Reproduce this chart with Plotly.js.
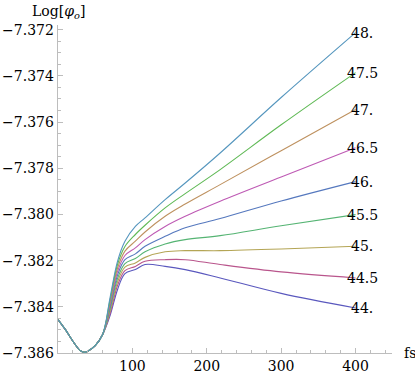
<!DOCTYPE html>
<html>
<head>
<meta charset="utf-8">
<script src="https://cdn.plot.ly/plotly-3.0.1.min.js"></script>
<style>
  html, body { margin: 0; padding: 0; background: #fff; }
  #phiChart { width: 415px; height: 378px; }
</style>
</head>
<body>
<div id="phiChart"></div>
<script>
// time axis (fs)
const fs = [0, 10, 20, 30, 35, 40, 50, 60, 70, 80, 90, 104, 117, 144, 171, 218, 300, 400];

// shared dip before the curves fan out (fs 0..60)
const dip = [-7.38455, -7.38499, -7.38549, -7.38590, -7.38597, -7.38592, -7.38568, -7.38520];

// Log[phi_o] for each parameter value, fs 70..400
const tail44   = [-7.38438, -7.38326, -7.38256, -7.38239, -7.38217, -7.38225, -7.38239, -7.38275, -7.38342, -7.38405];
const tail44_5 = [-7.38429, -7.38308, -7.38243, -7.38225, -7.38203, -7.38196, -7.38196, -7.38217, -7.38249, -7.38275];
const tail45   = [-7.38419, -7.38293, -7.38228, -7.38210, -7.38186, -7.38162, -7.38157, -7.38157, -7.38150, -7.38138];
const tail45_5 = [-7.38409, -7.38278, -7.38213, -7.38191, -7.38162, -7.38128, -7.38109, -7.38092, -7.38049, -7.38001];
const tail46   = [-7.38399, -7.38263, -7.38196, -7.38171, -7.38138, -7.38095, -7.38058, -7.38018, -7.37942, -7.37858];
const tail46_5 = [-7.38390, -7.38248, -7.38178, -7.38145, -7.38109, -7.38052, -7.38008, -7.37943, -7.37838, -7.37711];
const tail47   = [-7.38380, -7.38233, -7.38159, -7.38116, -7.38076, -7.38008, -7.37955, -7.37871, -7.37724, -7.37546];
const tail47_5 = [-7.38370, -7.38217, -7.38139, -7.38087, -7.38047, -7.37972, -7.37910, -7.37806, -7.37612, -7.37386];
const tail48   = [-7.38360, -7.38203, -7.38116, -7.38052, -7.38015, -7.37936, -7.37864, -7.37734, -7.37494, -7.37213];

const labels = ['44.', '44.5', '45.', '45.5', '46.', '46.5', '47.', '47.5', '48.'];
const colors = ['#5a58be', '#b9558c', '#b4a555', '#55b473', '#5578be', '#be5ab4', '#be915f', '#5fb955', '#5596be'];

const yTicks = [-7.386, -7.384, -7.382, -7.380, -7.378, -7.376, -7.374, -7.372];
const xTicks = [100, 200, 300, 400];

const tails = [tail44, tail44_5, tail45, tail45_5, tail46, tail46_5, tail47, tail47_5, tail48];

// Liberation Serif isn't picked up here, DejaVu Serif is
const serif = 'DejaVu Serif';
const textSize = 14;

const data = tails.map((tail, i) => ({
  x: fs,
  y: dip.concat(tail),
  mode: 'lines',
  type: 'scatter',
  name: labels[i],
  line: { color: colors[i], width: 1.1, shape: 'spline', smoothing: 1 },
  hoverinfo: 'skip'
}));

const annotations = tails.map((tail, i) => ({
  x: 409,
  y: tail[tail.length - 1],
  xref: 'x',
  yref: 'y',
  text: labels[i],
  showarrow: false,
  xanchor: 'center',
  yanchor: 'middle',
  font: { family: serif, size: textSize, color: '#000' }
}));

annotations.push({
  x: 1.03, y: 0, xref: 'paper', yref: 'paper',
  text: 'fs', showarrow: false, xanchor: 'left', yanchor: 'middle',
  font: { family: serif, size: textSize, color: '#000' }
});
annotations.push({
  x: 0, y: 1.04, xref: 'paper', yref: 'paper',
  text: 'Log[<i>φ</i><sub><i>o</i></sub>]', showarrow: false,
  xanchor: 'center', yanchor: 'middle',
  font: { family: serif, size: textSize, color: '#000' }
});

const axisStyle = {
  showgrid: false,
  zeroline: false,
  showline: true,
  linecolor: '#bdbdbd',
  linewidth: 1.3,
  ticks: 'inside',
  ticklen: 5,
  tickcolor: '#bdbdbd',
  tickwidth: 1,
  tickfont: { family: serif, size: textSize, color: '#000' },
  fixedrange: true
};

const layout = {
  width: 415,
  height: 378,
  margin: { l: 58, r: 23, t: 25, b: 25 },
  paper_bgcolor: '#fff',
  plot_bgcolor: '#fff',
  showlegend: false,
  font: { family: serif, size: textSize, color: '#000' },
  xaxis: Object.assign({}, axisStyle, {
    range: [0, 449],
    tickmode: 'array',
    tickvals: xTicks,
    ticktext: xTicks.map(String),
    minor: { tickmode: 'linear', tick0: 0, dtick: 20, ticks: 'inside', ticklen: 3, tickcolor: '#bdbdbd' }
  }),
  yaxis: Object.assign({}, axisStyle, {
    range: [-7.386, -7.3718],
    tickmode: 'array',
    tickvals: yTicks,
    ticktext: yTicks.map(v => '\u2212' + Math.abs(v).toFixed(3)),
    minor: { tickmode: 'linear', tick0: -7.386, dtick: 0.0005, ticks: 'inside', ticklen: 3, tickcolor: '#bdbdbd' }
  }),
  annotations: annotations
};

Plotly.newPlot('phiChart', data, layout, { displayModeBar: false, staticPlot: true });
</script>
</body>
</html>
